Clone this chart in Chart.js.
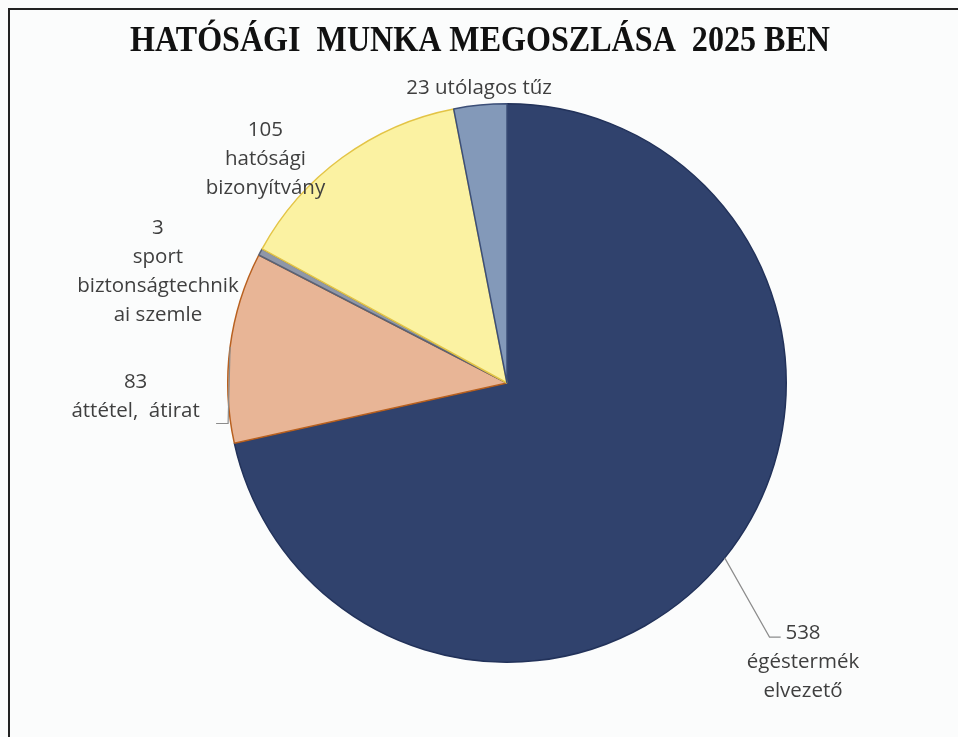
<!DOCTYPE html>
<html lang="hu">
<head>
  <meta charset="UTF-8">
  <title>Hatósági munka megoszlása 2025</title>
  <script src="https://cdn.jsdelivr.net/npm/chart.js"></script>
  <style>
    html, body {
      margin: 0;
      padding: 0;
      background: #fbfcfc;
    }
    #wrap {
      width: 958px;
      height: 737px;
      position: relative;
    }
  </style>
</head>
<body>
  <div id="wrap"><canvas id="pie"></canvas></div>

  <script>
    // Adatok
    const categories = ['égéstermék elvezető', 'áttétel, átirat', 'sport biztonságtechnikai szemle', 'hatósági bizonyítvány', 'utólagos tűz'];
    const values = [538, 83, 3, 105, 23];
    const labelLines = [
      ['538', 'égéstermék', 'elvezető'],
      ['83', 'áttétel,  átirat'],
      ['3', 'sport', 'biztonságtechnik', 'ai szemle'],
      ['105', 'hatósági', 'bizonyítvány'],
      ['23 utólagos tűz']
    ];
    const sliceColors = ['#30426d', '#e8b596', '#8f97a8', '#fbf2a2', '#8399b9'];
    const edgeColors = ['#22325a', '#b8601f', '#5a6275', '#e3c446', '#3c4f78'];
    // label centre relative to pie centre, in radius units
    const labelPos = [[1.06, 1.0], [-1.33, 0.05], [-1.25, -0.40], [-0.865, -0.80], [-0.10, -1.055]];
    const title = 'HATÓSÁGI  MUNKA MEGOSZLÁSA  2025 BEN';

    const labelPlugin = {
      id: 'labels',
      afterDraw(chart) {
        const ctx = chart.ctx;
        const arcs = chart.getDatasetMeta(0).data;
        const cx = arcs[0].x, cy = arcs[0].y, r = arcs[0].outerRadius;

        // frame
        ctx.save();
        ctx.strokeStyle = '#222';
        ctx.lineWidth = 2;
        ctx.beginPath();
        ctx.moveTo(9, chart.height);
        ctx.lineTo(9, 9);
        ctx.lineTo(chart.width, 9);
        ctx.stroke();

        // title, condensed to the original width
        ctx.fillStyle = '#111';
        ctx.font = 'bold 35px "Liberation Serif", serif';
        ctx.textAlign = 'center';
        ctx.textBaseline = 'middle';
        const tw = ctx.measureText(title).width;
        ctx.save();
        ctx.translate(480, 42);
        ctx.scale(700 / tw, 1);
        ctx.fillText(title, 0, 0);
        ctx.restore();

        // leader lines
        ctx.strokeStyle = '#8c8c8c';
        ctx.lineWidth = 1.2;
        const mid = i => (arcs[i].startAngle + arcs[i].endAngle) / 2;
        let a = mid(0);
        let px = cx + Math.cos(a) * r, py = cy + Math.sin(a) * r;
        ctx.beginPath();
        ctx.moveTo(px, py);
        ctx.lineTo(cx + r * 0.94, cy + r * 0.91);
        ctx.lineTo(cx + r * 0.98, cy + r * 0.91);
        ctx.stroke();
        a = mid(1);
        px = cx + Math.cos(a) * r; py = cy + Math.sin(a) * r;
        ctx.beginPath();
        ctx.moveTo(px, py);
        ctx.lineTo(px - 2, cy + r * 0.145);
        ctx.lineTo(px - 14, cy + r * 0.145);
        ctx.stroke();

        // texts
        ctx.fillStyle = '#3f3f3f';
        ctx.font = '20.5px "Open Sans", sans-serif';
        const lh = 29;
        labelLines.forEach((lines, i) => {
          const x = cx + labelPos[i][0] * r;
          const y0 = cy + labelPos[i][1] * r - (lines.length - 1) * lh / 2;
          lines.forEach((t, k) => ctx.fillText(t, x, y0 + k * lh));
        });
        ctx.restore();
      }
    };

    new Chart(document.getElementById('pie'), {
      type: 'pie',
      data: {
        labels: categories,
        datasets: [{
          data: values,
          backgroundColor: sliceColors,
          borderColor: edgeColors,
          borderWidth: 1.5
        }]
      },
      options: {
        responsive: true,
        maintainAspectRatio: false,
        animation: false,
        layout: { padding: { top: 103, bottom: 74, left: 56, right: 0 } },
        plugins: {
          legend: { display: false },
          tooltip: { enabled: false }
        }
      },
      plugins: [labelPlugin]
    });
  </script>
</body>
</html>
